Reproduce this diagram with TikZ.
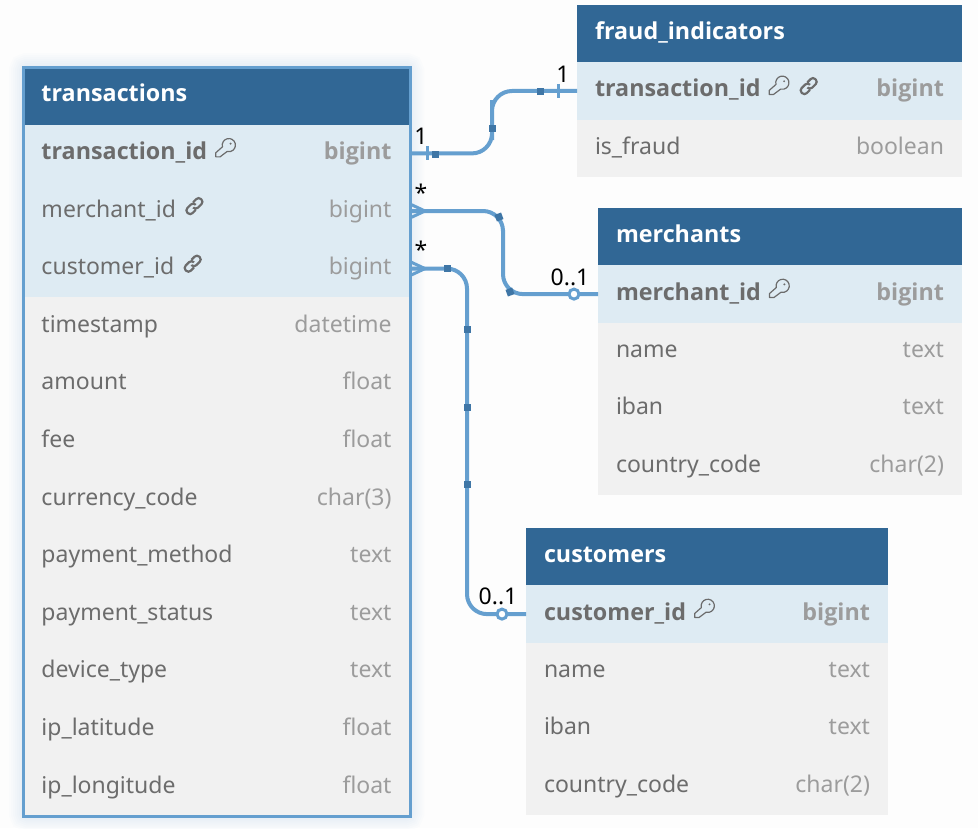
\documentclass[tikz,border=0pt]{standalone}
\usepackage{fontspec}
\setmainfont{Noto Sans}
\newfontfamily\boldrow{Open Sans}
\usetikzlibrary{positioning}

\definecolor{headblue}{HTML}{316795}
\definecolor{lineblue}{HTML}{659FCF}
\definecolor{markblue}{HTML}{3F76A6}
\definecolor{rowblue}{HTML}{DEEBF3}
\definecolor{rowgray}{HTML}{F1F1F1}
\definecolor{pagegray}{HTML}{FDFDFD}
\definecolor{nametext}{HTML}{6C6C6C}
\definecolor{typetext}{HTML}{9C9C9C}

\newcommand{\coltype}[1]{\hfill\textcolor{typetext}{#1}}
\newcommand{\keyicon}{\hspace{8pt}\tikz[baseline=-2pt, x=1.1pt, y=1.1pt]{
    \draw[nametext, line width=1.2pt, line join=round] (0.5,4.2) -- (6.6,9.6) arc[start angle=195, end angle=-105, radius=6.6pt] -- (4.4,0.5) -- (0.5,0.5) -- cycle;
    \fill[nametext] (14,12.5) circle (1.1pt);
}}
\newcommand{\linkicon}{\hspace{8pt}\tikz[baseline=-2.5pt, x=1.2pt, y=1.2pt]{
    \draw[nametext, line width=2.2pt, rounded corners=3.2pt, rotate around={45:(8,7)}] (6.5,4) -| (0,10) -| (9.5,7) (9.5,10) -| (16,4) -| (6.5,7);
}}

\tikzset{
    tablebox/.style={rectangle, anchor=north west, outer sep=0pt, inner xsep=18pt, inner ysep=0pt, align=left, text height=17pt, text depth=5pt},
    tablehead/.style={tablebox, fill=headblue, text=white, font=\fontsize{23.3}{26}\boldrow\selectfont\bfseries},
    rowkey/.style={tablebox, fill=rowblue, text=nametext, font=\fontsize{23.3}{26}\boldrow\selectfont\bfseries},
    rowref/.style={tablebox, fill=rowblue, text=nametext, font=\fontsize{23}{26}\selectfont},
    rowplain/.style={tablebox, fill=rowgray, text=nametext, font=\fontsize{23}{26}\selectfont},
    transactions_col/.style={inner xsep=18.5pt, text width=350pt, minimum height=57.6pt},
    fraud_col/.style={text width=349pt, minimum height=57.33pt},
    merchants_col/.style={text width=328pt, minimum height=57.4pt},
    customers_col/.style={text width=326pt, minimum height=57.4pt},
    connector/.style={draw=lineblue, line width=4pt, rounded corners=20pt},
    crowline/.style={draw=lineblue, line width=3pt},
    tickline/.style={draw=lineblue, line width=3pt},
    markbox/.style={rectangle, fill=markblue, inner sep=0pt, minimum size=7pt, outer sep=0pt},
    optcircle/.style={circle, draw=lineblue, fill=white, line width=3pt, inner sep=0pt, minimum size=10pt},
    endlabel/.style={text=black, inner sep=0pt, font=\fontsize{23}{26}\selectfont},
}

\begin{document}
\begin{tikzpicture}[x=1pt, y=-1pt]
    \useasboundingbox[fill=pagegray] (0,0) rectangle (978,828);

    % glow behind the main table
    \foreach \glow in {4,8,...,28} {
        \path[draw=lineblue, draw opacity=0.02, line width=\glow pt, rounded corners=4pt] (23,67) rectangle (410,817);
    }

    % transactions
    \node[tablehead, transactions_col] (transactions) at (23,67) {transactions};
    \node[rowkey, transactions_col, below=0pt of transactions] (transactions_transaction_id) {transaction\_id\keyicon \coltype{bigint}};
    \node[rowref, transactions_col, below=0pt of transactions_transaction_id] (transactions_merchant_id) {merchant\_id\linkicon \coltype{bigint}};
    \node[rowref, transactions_col, below=0pt of transactions_merchant_id] (transactions_customer_id) {customer\_id\linkicon \coltype{bigint}};
    \node[rowplain, transactions_col, below=0pt of transactions_customer_id] (transactions_timestamp) {timestamp \coltype{datetime}};
    \node[rowplain, transactions_col, below=0pt of transactions_timestamp] (transactions_amount) {amount \coltype{float}};
    \node[rowplain, transactions_col, below=0pt of transactions_amount] (transactions_fee) {fee \coltype{float}};
    \node[rowplain, transactions_col, below=0pt of transactions_fee] (transactions_currency_code) {currency\_code \coltype{char(3)}};
    \node[rowplain, transactions_col, below=0pt of transactions_currency_code] (transactions_payment_method) {payment\_method \coltype{text}};
    \node[rowplain, transactions_col, below=0pt of transactions_payment_method] (transactions_payment_status) {payment\_status \coltype{text}};
    \node[rowplain, transactions_col, below=0pt of transactions_payment_status] (transactions_device_type) {device\_type \coltype{text}};
    \node[rowplain, transactions_col, below=0pt of transactions_device_type] (transactions_ip_latitude) {ip\_latitude \coltype{float}};
    \node[rowplain, transactions_col, below=0pt of transactions_ip_latitude] (transactions_ip_longitude) {ip\_longitude \coltype{float}};
    \path[draw=lineblue, line width=3pt] (transactions.north west) rectangle ([yshift=-1pt]transactions_ip_longitude.south east);

    % fraud_indicators
    \node[tablehead, fraud_col] (fraud) at (577,5) {fraud\_indicators};
    \node[rowkey, fraud_col, below=0pt of fraud] (fraud_transaction_id) {transaction\_id\keyicon\linkicon \coltype{bigint}};
    \node[rowplain, fraud_col, below=0pt of fraud_transaction_id] (fraud_is_fraud) {is\_fraud \coltype{boolean}};

    % merchants
    \node[tablehead, merchants_col] (merchants) at (598,208) {merchants};
    \node[rowkey, merchants_col, below=0pt of merchants] (merchants_merchant_id) {merchant\_id\keyicon \coltype{bigint}};
    \node[rowplain, merchants_col, below=0pt of merchants_merchant_id] (merchants_name) {name \coltype{text}};
    \node[rowplain, merchants_col, below=0pt of merchants_name] (merchants_iban) {iban \coltype{text}};
    \node[rowplain, merchants_col, below=0pt of merchants_iban] (merchants_country_code) {country\_code \coltype{char(2)}};

    % customers
    \node[tablehead, customers_col] (customers) at (526,528) {customers};
    \node[rowkey, customers_col, below=0pt of customers] (customers_customer_id) {customer\_id\keyicon \coltype{bigint}};
    \node[rowplain, customers_col, below=0pt of customers_customer_id] (customers_name) {name \coltype{text}};
    \node[rowplain, customers_col, below=0pt of customers_name] (customers_iban) {iban \coltype{text}};
    \node[rowplain, customers_col, below=0pt of customers_iban] (customers_country_code) {country\_code \coltype{char(2)}};

    \coordinate (fraud_bend) at (492,120);
    \coordinate (merchant_bend) at (503,250);
    \coordinate (customer_bend) at (467,440);

    \path[connector] (transactions_transaction_id.east) -| (fraud_bend) |- (fraud_transaction_id.west);
    \path[connector] (transactions_merchant_id.east) -| (merchant_bend) |- (merchants_merchant_id.west);
    \path[connector] (transactions_customer_id.east) -| (customer_bend) |- (customers_customer_id.west);

    % one to one ticks
    \path[tickline] ([xshift=17pt, yshift=7pt]transactions_transaction_id.east) -- ([xshift=17pt, yshift=-7pt]transactions_transaction_id.east);
    \path[tickline] ([xshift=-18.5pt, yshift=7pt]fraud_transaction_id.west) -- ([xshift=-18.5pt, yshift=-7pt]fraud_transaction_id.west);

    % crow feet
    \coordinate (merchant_crow) at ([xshift=15pt]transactions_merchant_id.east);
    \coordinate (customer_crow) at ([xshift=15pt]transactions_customer_id.east);
    \path[crowline] ([yshift=7pt]transactions_merchant_id.east) -- (merchant_crow) -- ([yshift=-7pt]transactions_merchant_id.east);
    \path[crowline] ([yshift=7pt]transactions_customer_id.east) -- (customer_crow) -- ([yshift=-7pt]transactions_customer_id.east);

    % optional ends
    \node[optcircle, left=17.5pt of merchants_merchant_id.west] (merchant_opt) {};
    \node[optcircle, left=17.5pt of customers_customer_id.west] (customer_opt) {};

    % handles on the lines
    \node[markbox] (fraud_mark_a) at (435,154) {};
    \node[markbox] (fraud_mark_b) at (492,128) {};
    \node[markbox] (fraud_mark_c) at (540,91) {};
    \node[markbox, rotate=20] (merchant_mark_a) at (499,217) {};
    \node[markbox, rotate=20] (merchant_mark_b) at (510,292) {};
    \node[markbox] (customer_mark_a) at (447,268.5) {};
    \node[markbox] (customer_mark_b) at (467,329) {};
    \node[markbox] (customer_mark_c) at (467,407) {};
    \node[markbox] (customer_mark_d) at (467,484) {};

    % end labels
    \node[endlabel] (fraud_label_left) at (421,136) {1};
    \node[endlabel] (fraud_label_right) at (563,74) {1};
    \node[endlabel] (merchant_label_left) at (421,193) {*};
    \node[endlabel] (merchant_label_right) at (570,277) {0..1};
    \node[endlabel] (customer_label_left) at (421,250) {*};
    \node[endlabel] (customer_label_right) at (498,596) {0..1};
\end{tikzpicture}
\end{document}
